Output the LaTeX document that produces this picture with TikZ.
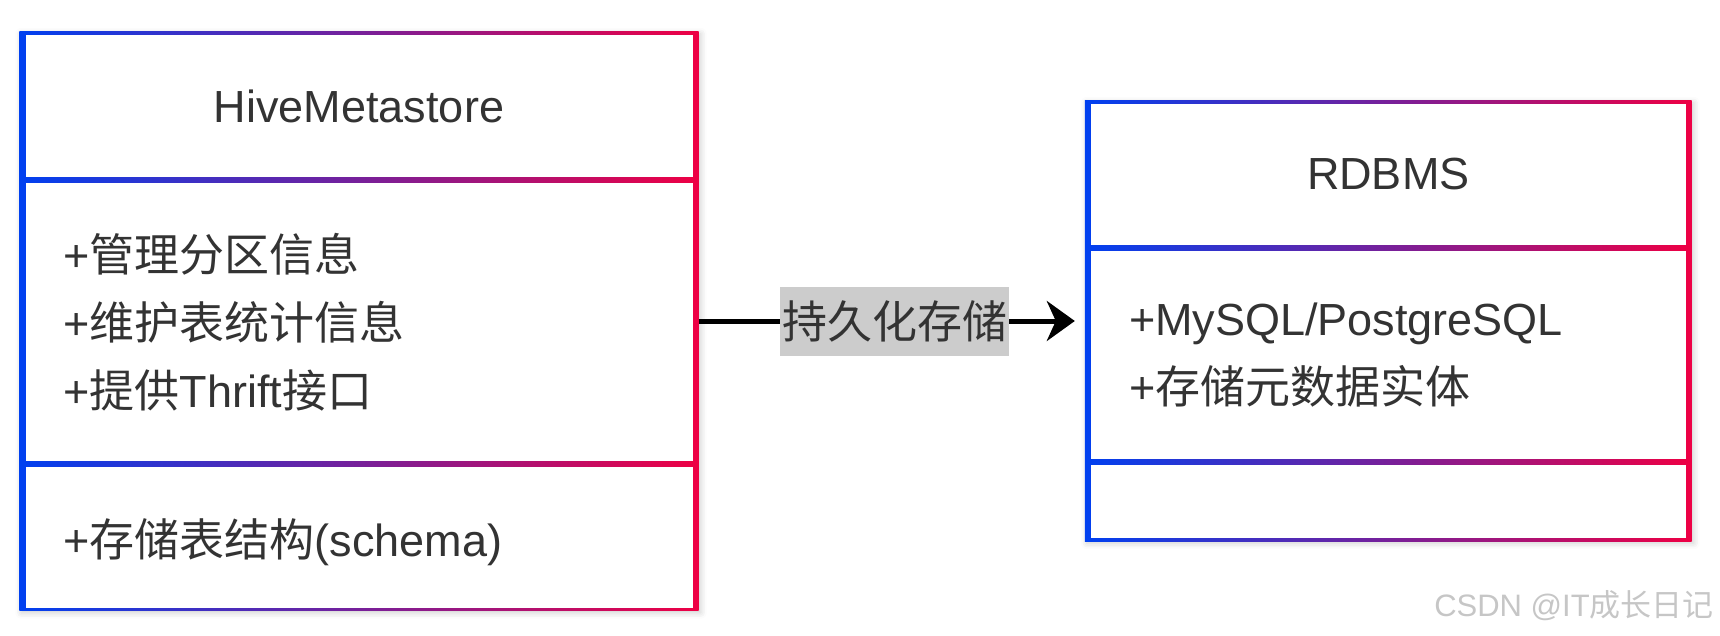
\documentclass[tikz,border=0pt]{standalone}
\usepackage{fontspec}
\setmainfont{Liberation Sans}
\newfontfamily\cjk{Noto Sans CJK SC}
\usetikzlibrary{arrows.meta, positioning, calc, backgrounds, shadows.blur}
\definecolor{umlblue}{RGB}{0, 64, 240}
\definecolor{umlred}{RGB}{238, 0, 68}
\definecolor{inkgray}{RGB}{51, 51, 51}
\definecolor{tagbg}{RGB}{204, 204, 204}

\begin{document}
\begin{tikzpicture}[x=1pt, y=-1pt,
		part/.style={fill=white, inner ysep=0pt, inner xsep=0pt, text=inkgray, align=center, font=\fontsize{45}{68}\selectfont},
		members/.style={part, align=left, inner xsep=38pt},
		frame/.style={left color=umlblue, right color=umlred, blur shadow={shadow xshift=2pt, shadow yshift=-2pt, shadow blur radius=6pt, shadow opacity=20}},
		flow/.style={-{Stealth[length=28pt, width=40pt, inset=9pt]}, line width=5pt, draw=black},
		tag/.style={fill=tagbg, text=inkgray, inner xsep=2pt, minimum height=69pt, font=\fontsize{45}{54}\selectfont}
	]
	\useasboundingbox (0,0) rectangle (1720,636);
	
	% HiveMetastore class
	\node[part, minimum width=667pt, minimum height=142pt] (hivehead) at (359,106) {HiveMetastore};
	\node[members, minimum width=667pt, minimum height=278pt, text width=591pt] (hiveattr) at (359,322) {+{\cjk 管理分区信息}\\+{\cjk 维护表统计信息}\\+{\cjk 提供}Thrift{\cjk 接口}};
	\node[members, minimum width=667pt, minimum height=140.5pt, text width=591pt, text depth=0pt] (hiveops) at (359,537.25) {+{\cjk 存储表结构}(schema)};
	
	% RDBMS class
	\node[part, minimum width=594.5pt, minimum height=141pt] (rdbmshead) at (1388.25,174.5) {RDBMS};
	\node[members, minimum width=594.5pt, minimum height=208pt, text width=518.5pt] (rdbmsattr) at (1388.25,355) {+MySQL/PostgreSQL\\+{\cjk 存储元数据实体}};
	\node[members, minimum width=594.5pt, minimum height=73pt, text width=518.5pt] (rdbmsops) at (1388.25,501.5) {};
	
	% gradient borders
	\begin{scope}[on background layer]
		\shade[frame] ($(hivehead.north west)+(-6,-3)$) rectangle ($(hiveops.south east)+(6,3)$);
		\shade[frame] ($(rdbmshead.north west)+(-6,-3)$) rectangle ($(rdbmsops.south east)+(6,3)$);
	\end{scope}
	
	\coordinate (hiveport) at ($(hiveattr.east)+(6,-1)$);
	\draw[flow, shorten >=16pt] (hiveport) -- (hiveport -| rdbmsattr.west)
		node[tag, midway] (persist) {\cjk 持久化存储};
	
	\node[text=gray!45, font=\fontsize{31}{36}\selectfont] (mark) at (1574,606) {CSDN @IT{\cjk 成长日记}};
\end{tikzpicture}
\end{document}
